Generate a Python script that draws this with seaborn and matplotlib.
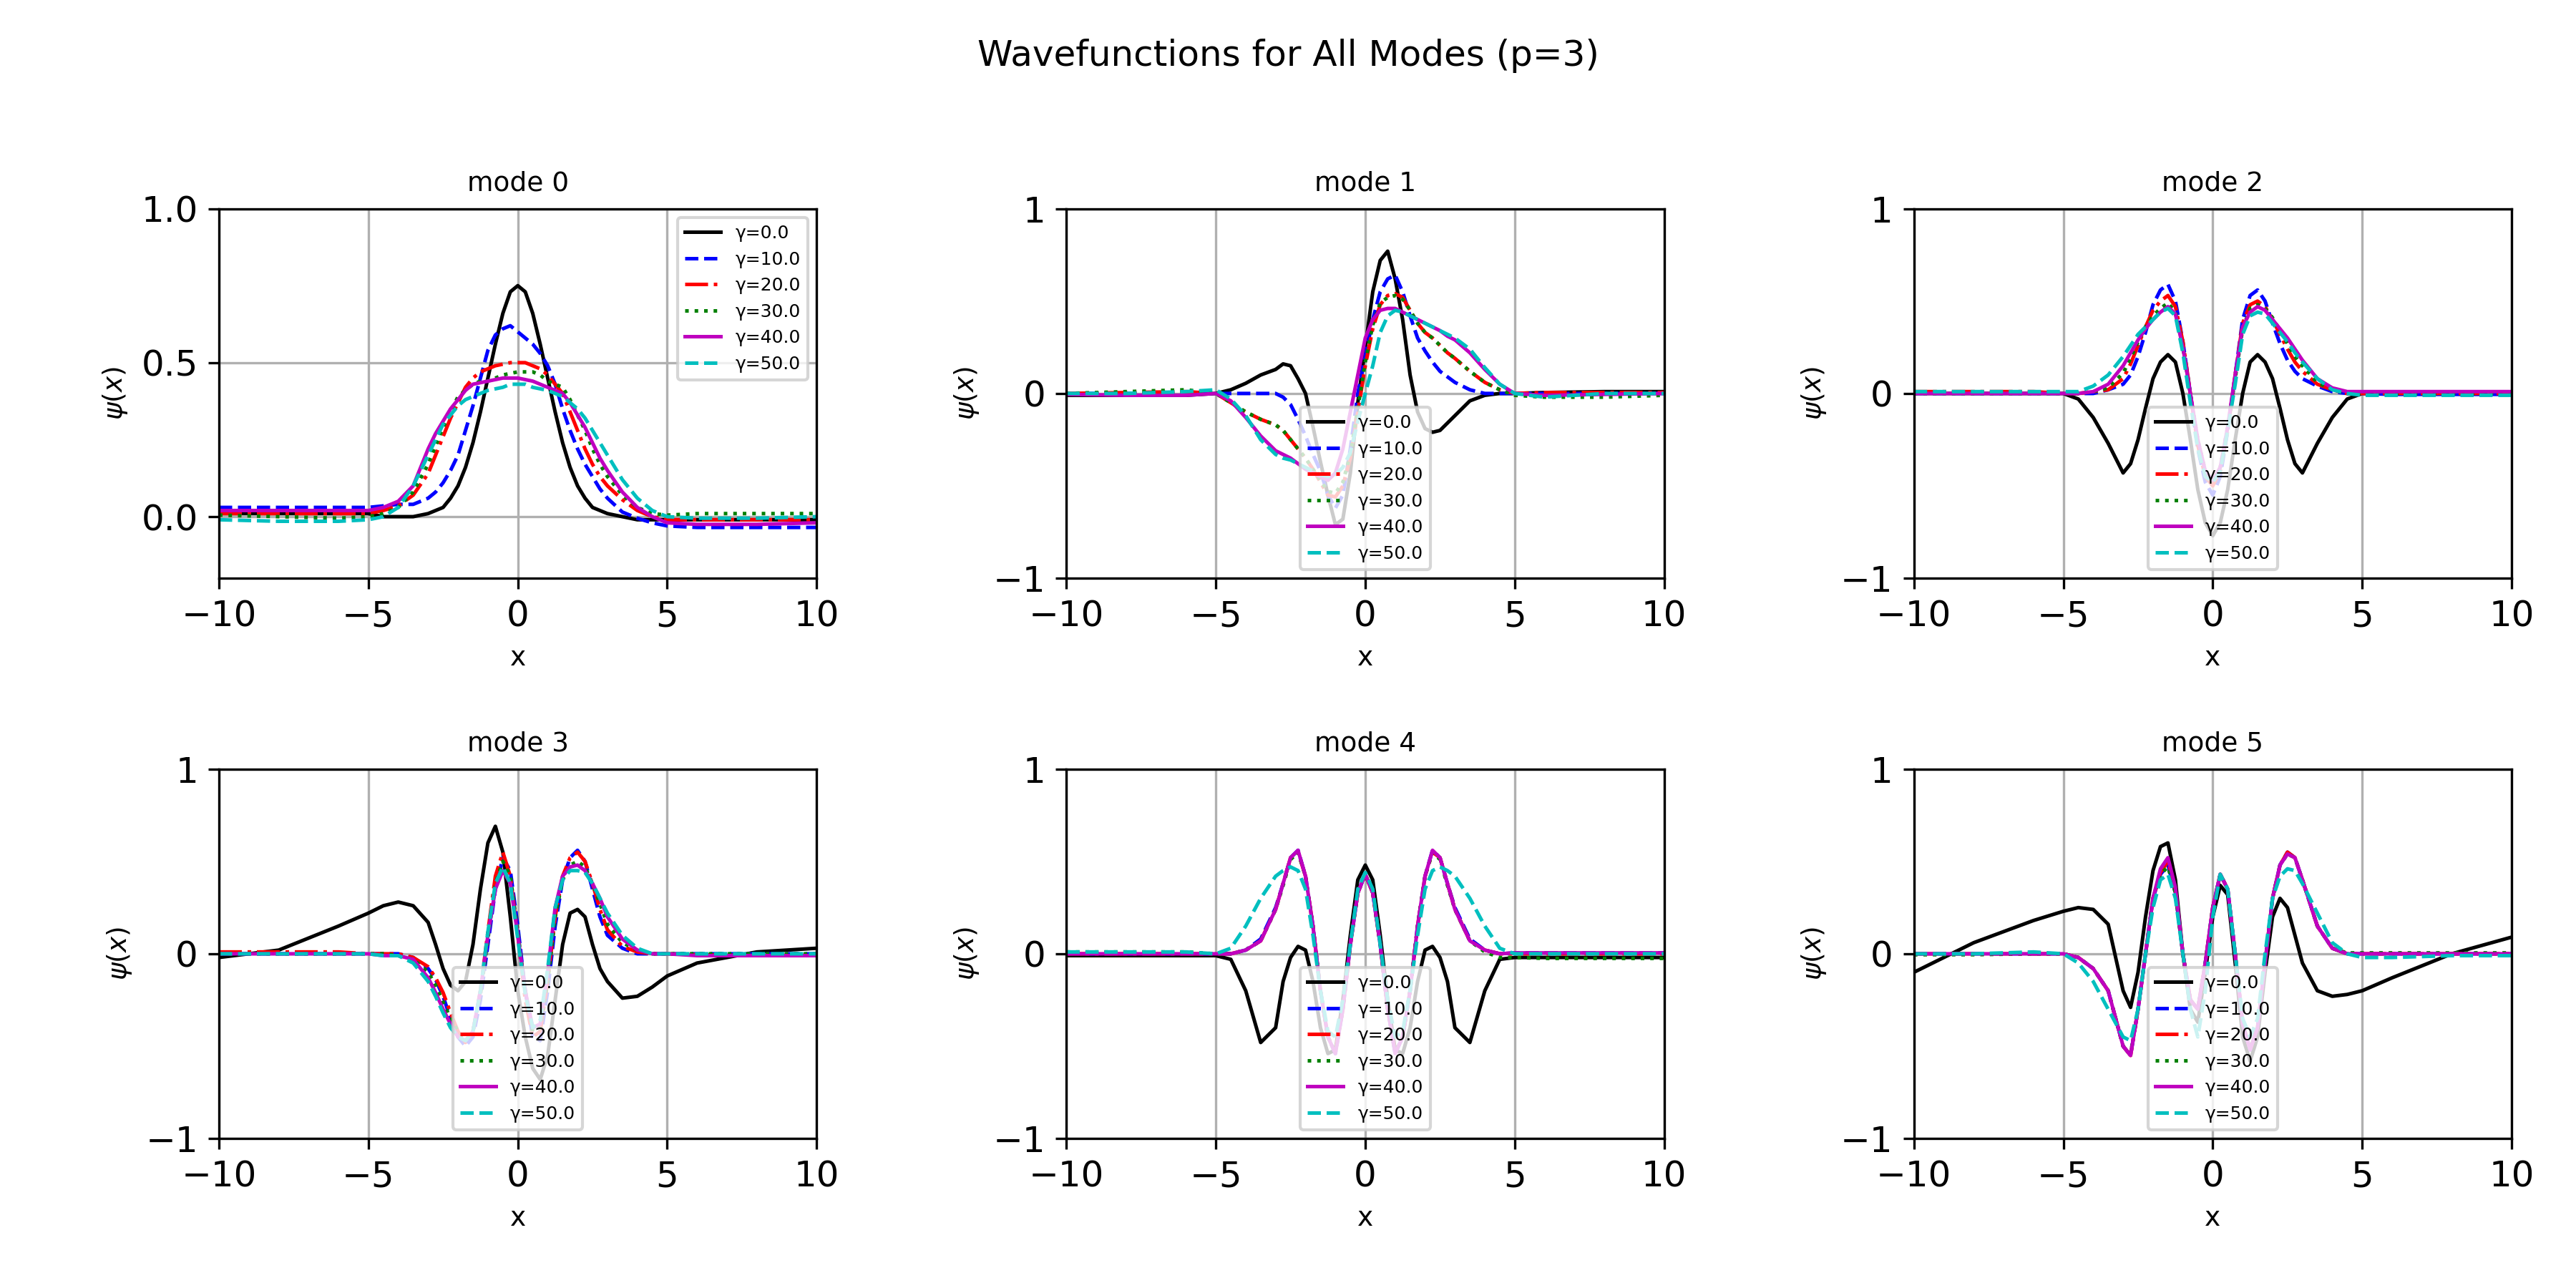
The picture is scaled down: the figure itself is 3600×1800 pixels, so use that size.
import matplotlib
matplotlib.use("Agg")
import matplotlib.pyplot as plt
import seaborn as sns

X = [-10, -8, -6, -5, -4.5, -4, -3.5, -3, -2.75, -2.5, -2.25, -2, -1.75, -1.5, -1.25, -1,
     -0.75, -0.5, -0.25, 0, 0.25, 0.5, 0.75, 1, 1.25, 1.5, 1.75, 2, 2.25, 2.5, 2.75, 3,
     3.5, 4, 4.5, 5, 6, 8, 10]
gammas = [0.0, 10.0, 20.0, 30.0, 40.0, 50.0]
colors = ["k", "b", "r", "g", "m", "c"]
styles = ["-", "--", "-.", ":", "-", "--"]

mode0 = [
 [0.01,0.01,0.01,0.01,0.0,0.0,0.0,0.01,0.02,0.03,0.06,0.10,0.16,0.24,0.34,0.45,0.56,0.66,0.73,0.75,0.73,0.66,0.56,0.45,0.34,0.24,0.16,0.10,0.06,0.03,0.02,0.01,0.0,-0.01,-0.01,-0.01,-0.01,-0.01,-0.01],
 [0.03,0.03,0.03,0.03,0.035,0.04,0.04,0.06,0.08,0.11,0.15,0.20,0.28,0.36,0.45,0.54,0.59,0.61,0.62,0.60,0.58,0.56,0.53,0.49,0.43,0.35,0.28,0.22,0.17,0.13,0.09,0.06,0.015,-0.005,-0.02,-0.03,-0.035,-0.035,-0.035],
 [0.01,0.01,0.01,0.01,0.02,0.035,0.07,0.14,0.20,0.26,0.32,0.37,0.42,0.45,0.47,0.48,0.49,0.495,0.50,0.50,0.50,0.49,0.48,0.46,0.43,0.40,0.34,0.28,0.22,0.17,0.13,0.10,0.055,0.02,0.0,-0.01,-0.01,-0.01,-0.01],
 [0.005,0.0,-0.005,0.0,0.01,0.03,0.08,0.17,0.23,0.29,0.34,0.39,0.41,0.43,0.44,0.44,0.45,0.46,0.465,0.47,0.47,0.47,0.46,0.44,0.43,0.42,0.38,0.33,0.28,0.22,0.17,0.13,0.07,0.03,0.01,0.005,0.01,0.01,0.01],
 [0.02,0.02,0.02,0.02,0.03,0.05,0.10,0.22,0.27,0.31,0.35,0.38,0.41,0.43,0.435,0.44,0.445,0.45,0.45,0.45,0.445,0.44,0.43,0.42,0.41,0.40,0.37,0.33,0.29,0.24,0.19,0.15,0.08,0.03,0.0,-0.02,-0.025,-0.025,-0.02],
 [-0.01,-0.015,-0.015,-0.01,0.0,0.03,0.10,0.20,0.25,0.30,0.33,0.36,0.38,0.39,0.40,0.41,0.415,0.42,0.43,0.43,0.43,0.42,0.415,0.41,0.40,0.39,0.37,0.35,0.32,0.28,0.24,0.20,0.12,0.06,0.02,0.0,-0.005,-0.005,0.0],
]
mode1 = [
 [-0.01,-0.01,-0.01,0.0,0.02,0.055,0.10,0.13,0.16,0.15,0.08,0.0,-0.18,-0.37,-0.55,-0.71,-0.68,-0.43,-0.05,0.25,0.55,0.72,0.77,0.62,0.40,0.10,-0.10,-0.19,-0.21,-0.20,-0.16,-0.12,-0.04,-0.01,0.0,0.0,0.005,0.01,0.01],
 [0.0,0.0,0.0,0.0,0.0,0.0,0.0,0.0,-0.02,-0.06,-0.14,-0.23,-0.33,-0.42,-0.55,-0.62,-0.55,-0.30,0.0,0.20,0.40,0.55,0.62,0.64,0.55,0.42,0.30,0.23,0.17,0.12,0.09,0.06,0.02,0.0,0.0,0.0,0.0,0.0,0.0],
 [0.0,0.005,0.01,0.0,-0.05,-0.10,-0.14,-0.17,-0.20,-0.25,-0.30,-0.35,-0.41,-0.48,-0.55,-0.56,-0.50,-0.35,-0.10,0.15,0.35,0.48,0.53,0.54,0.52,0.45,0.38,0.33,0.30,0.26,0.22,0.19,0.12,0.06,0.02,0.0,0.005,0.005,0.005],
 [0.0,0.01,0.02,0.0,-0.05,-0.10,-0.14,-0.17,-0.20,-0.25,-0.30,-0.35,-0.41,-0.47,-0.53,-0.54,-0.48,-0.33,-0.08,0.17,0.37,0.49,0.52,0.53,0.51,0.45,0.38,0.33,0.30,0.26,0.22,0.19,0.12,0.06,0.02,-0.01,-0.02,-0.02,-0.01],
 [-0.005,-0.01,-0.01,0.0,-0.04,-0.13,-0.23,-0.31,-0.33,-0.35,-0.38,-0.41,-0.43,-0.45,-0.47,-0.43,-0.30,-0.10,0.10,0.30,0.40,0.45,0.46,0.46,0.44,0.42,0.40,0.38,0.36,0.34,0.31,0.29,0.22,0.13,0.05,0.0,-0.01,-0.005,0.0],
 [0.0,0.0,0.01,0.02,-0.03,-0.12,-0.25,-0.33,-0.35,-0.36,-0.38,-0.40,-0.42,-0.44,-0.45,-0.44,-0.40,-0.32,-0.15,0.0,0.15,0.33,0.42,0.45,0.44,0.42,0.40,0.38,0.36,0.34,0.32,0.30,0.24,0.14,0.05,0.0,-0.02,0.0,0.0],
]
mode2 = [
 [0.0,0.0,0.0,0.0,-0.03,-0.13,-0.27,-0.43,-0.38,-0.25,-0.08,0.08,0.17,0.21,0.17,0.0,-0.25,-0.52,-0.70,-0.77,-0.70,-0.52,-0.25,0.0,0.17,0.21,0.17,0.08,-0.08,-0.25,-0.38,-0.43,-0.27,-0.13,-0.03,0.0,0.0,0.0,0.0],
 [0.0,0.0,0.0,0.0,0.0,0.0,0.02,0.05,0.10,0.20,0.33,0.48,0.56,0.59,0.50,0.28,0.0,-0.30,-0.48,-0.55,-0.45,-0.20,0.10,0.40,0.53,0.56,0.50,0.38,0.27,0.18,0.12,0.08,0.04,0.01,0.0,0.0,-0.005,-0.005,-0.005],
 [0.01,0.01,0.01,0.0,0.0,0.01,0.02,0.08,0.16,0.26,0.36,0.45,0.50,0.53,0.47,0.28,0.0,-0.28,-0.45,-0.50,-0.42,-0.20,0.10,0.38,0.48,0.50,0.47,0.40,0.32,0.24,0.17,0.12,0.05,0.02,0.0,0.0,0.0,0.0,0.0],
 [0.0,0.0,0.0,0.0,0.0,0.01,0.03,0.11,0.19,0.28,0.36,0.42,0.46,0.49,0.44,0.25,0.0,-0.25,-0.42,-0.48,-0.40,-0.18,0.08,0.35,0.46,0.48,0.46,0.41,0.34,0.27,0.20,0.15,0.06,0.02,0.0,0.0,0.0,0.0,0.0],
 [0.0,0.0,0.0,0.0,0.0,0.01,0.05,0.15,0.22,0.29,0.35,0.40,0.44,0.47,0.43,0.25,0.0,-0.25,-0.42,-0.47,-0.40,-0.18,0.10,0.36,0.44,0.47,0.45,0.40,0.35,0.30,0.24,0.18,0.08,0.03,0.01,0.01,0.01,0.01,0.01],
 [0.01,0.01,0.01,0.01,0.01,0.04,0.10,0.20,0.26,0.32,0.36,0.40,0.44,0.46,0.42,0.22,-0.05,-0.30,-0.45,-0.48,-0.42,-0.20,0.05,0.32,0.42,0.44,0.43,0.38,0.33,0.28,0.22,0.17,0.08,0.02,0.0,-0.01,-0.01,-0.01,-0.01],
]
mode3 = [
 [-0.02,0.02,0.15,0.22,0.26,0.28,0.26,0.17,0.05,-0.08,-0.17,-0.20,-0.15,0.05,0.35,0.60,0.69,0.55,0.20,-0.20,-0.45,-0.62,-0.68,-0.55,-0.25,0.05,0.22,0.24,0.20,0.05,-0.08,-0.15,-0.24,-0.23,-0.18,-0.12,-0.05,0.01,0.03],
 [0.0,0.0,0.0,0.0,0.0,0.0,-0.02,-0.08,-0.14,-0.23,-0.35,-0.45,-0.50,-0.45,-0.25,0.05,0.35,0.52,0.45,0.15,-0.20,-0.45,-0.47,-0.20,0.15,0.40,0.52,0.56,0.50,0.35,0.20,0.10,0.03,0.0,0.0,0.0,0.0,0.0,0.0],
 [0.01,0.01,0.01,0.0,0.0,0.0,-0.02,-0.07,-0.13,-0.21,-0.32,-0.42,-0.48,-0.42,-0.20,0.12,0.42,0.55,0.42,0.10,-0.25,-0.45,-0.42,-0.15,0.20,0.42,0.52,0.55,0.50,0.38,0.24,0.13,0.04,0.01,0.0,0.0,-0.005,-0.01,-0.01],
 [0.0,0.0,0.0,0.0,0.0,-0.01,-0.03,-0.10,-0.17,-0.26,-0.35,-0.42,-0.46,-0.42,-0.22,0.08,0.38,0.50,0.42,0.12,-0.20,-0.42,-0.40,-0.15,0.20,0.40,0.48,0.50,0.47,0.38,0.27,0.16,0.06,0.02,0.0,0.0,0.0,0.0,0.0],
 [0.0,0.0,0.0,0.0,-0.01,-0.01,-0.03,-0.13,-0.21,-0.30,-0.38,-0.45,-0.47,-0.42,-0.20,0.10,0.35,0.45,0.38,0.10,-0.20,-0.40,-0.38,-0.10,0.25,0.42,0.47,0.48,0.45,0.38,0.30,0.20,0.08,0.02,0.0,0.0,-0.01,-0.01,-0.01],
 [0.0,0.0,0.0,0.0,-0.01,-0.01,-0.05,-0.15,-0.23,-0.32,-0.40,-0.45,-0.47,-0.42,-0.20,0.12,0.38,0.47,0.38,0.08,-0.22,-0.40,-0.36,-0.08,0.25,0.40,0.45,0.45,0.44,0.38,0.30,0.22,0.10,0.03,0.0,0.0,0.0,0.0,0.0],
]
mode4 = [
 [-0.01,-0.01,-0.01,-0.01,-0.03,-0.20,-0.48,-0.40,-0.15,-0.02,0.04,0.02,-0.15,-0.40,-0.54,-0.52,-0.25,0.10,0.40,0.48,0.40,0.10,-0.25,-0.52,-0.54,-0.40,-0.15,0.02,0.04,-0.02,-0.15,-0.40,-0.48,-0.20,-0.03,-0.02,-0.02,-0.02,-0.02],
 [0.0,0.0,0.0,0.0,0.0,0.02,0.08,0.25,0.38,0.52,0.56,0.42,0.15,-0.20,-0.45,-0.54,-0.30,0.05,0.33,0.43,0.33,0.05,-0.30,-0.54,-0.45,-0.20,0.15,0.42,0.56,0.52,0.38,0.25,0.08,0.02,0.0,0.005,0.005,0.005,0.005],
 [0.0,0.0,0.0,0.0,0.0,0.02,0.07,0.24,0.38,0.52,0.55,0.42,0.15,-0.20,-0.45,-0.53,-0.30,0.05,0.33,0.43,0.33,0.05,-0.30,-0.53,-0.45,-0.20,0.15,0.42,0.55,0.52,0.38,0.24,0.07,0.02,0.0,0.0,0.0,0.0,0.0],
 [0.01,0.01,0.01,0.0,0.0,0.02,0.07,0.24,0.37,0.51,0.55,0.42,0.15,-0.20,-0.45,-0.53,-0.30,0.05,0.33,0.43,0.33,0.05,-0.30,-0.53,-0.45,-0.20,0.15,0.42,0.55,0.51,0.37,0.24,0.07,0.01,-0.02,-0.02,-0.025,-0.025,-0.025],
 [0.0,0.0,0.0,0.0,0.0,0.02,0.07,0.24,0.38,0.52,0.56,0.42,0.15,-0.20,-0.45,-0.54,-0.30,0.05,0.33,0.43,0.33,0.05,-0.30,-0.54,-0.45,-0.20,0.15,0.42,0.56,0.52,0.38,0.24,0.07,0.02,0.0,0.005,0.005,0.005,0.005],
 [0.01,0.01,0.01,0.0,0.03,0.15,0.30,0.42,0.45,0.47,0.45,0.35,0.10,-0.20,-0.42,-0.45,-0.25,0.05,0.35,0.44,0.35,0.05,-0.25,-0.45,-0.42,-0.20,0.10,0.35,0.45,0.47,0.45,0.42,0.30,0.15,0.03,0.0,0.0,0.0,0.0],
]
mode5 = [
 [-0.10,0.06,0.18,0.23,0.25,0.24,0.16,-0.20,-0.29,-0.10,0.20,0.45,0.58,0.60,0.40,0.0,-0.30,-0.37,-0.10,0.20,0.37,0.32,-0.05,-0.45,-0.58,-0.45,-0.10,0.20,0.30,0.25,0.10,-0.05,-0.20,-0.23,-0.22,-0.20,-0.13,0.0,0.09],
 [0.0,0.0,0.0,0.0,-0.02,-0.08,-0.20,-0.50,-0.55,-0.30,0.0,0.30,0.43,0.48,0.33,0.0,-0.25,-0.30,-0.05,0.25,0.43,0.35,0.0,-0.38,-0.52,-0.40,-0.05,0.30,0.48,0.55,0.52,0.40,0.15,0.03,0.0,0.0,0.0,0.0,0.0],
 [0.0,0.0,0.0,0.0,-0.02,-0.08,-0.20,-0.50,-0.55,-0.30,0.0,0.30,0.44,0.50,0.34,0.0,-0.25,-0.30,-0.05,0.25,0.43,0.35,0.0,-0.38,-0.52,-0.40,-0.05,0.30,0.48,0.55,0.52,0.40,0.15,0.03,0.0,0.0,0.0,0.0,0.0],
 [-0.005,-0.005,0.0,0.0,-0.02,-0.08,-0.20,-0.50,-0.54,-0.30,0.0,0.30,0.43,0.47,0.33,0.0,-0.25,-0.30,-0.05,0.25,0.43,0.35,0.0,-0.38,-0.52,-0.40,-0.05,0.30,0.48,0.54,0.52,0.40,0.15,0.03,0.005,0.005,0.005,0.005,0.005],
 [0.0,0.0,0.0,0.0,-0.02,-0.08,-0.20,-0.50,-0.55,-0.30,0.0,0.30,0.46,0.52,0.36,0.0,-0.25,-0.30,-0.05,0.25,0.43,0.35,0.0,-0.38,-0.52,-0.40,-0.05,0.30,0.48,0.54,0.52,0.40,0.15,0.03,0.0,0.0,0.0,0.0,0.0],
 [0.0,0.0,0.01,0.0,-0.05,-0.15,-0.30,-0.45,-0.47,-0.30,0.0,0.25,0.40,0.43,0.30,0.0,-0.30,-0.45,-0.20,0.20,0.43,0.35,0.0,-0.35,-0.45,-0.35,0.0,0.30,0.42,0.46,0.45,0.38,0.22,0.06,0.0,-0.02,-0.02,-0.01,-0.01],
]
modes = [mode0, mode1, mode2, mode3, mode4, mode5]
mode_titles = ["mode 0", "mode 1", "mode 2", "mode 3", "mode 4", "mode 5"]

fig, axes = plt.subplots(2, 3, figsize=(12, 6), dpi=300)
fig.subplots_adjust(left=0.085, right=0.975, top=0.838, bottom=0.116, wspace=0.418, hspace=0.516)
for i, ax in enumerate(axes.flat):
    for j, g in enumerate(gammas):
        sns.lineplot(x=X, y=modes[i][j], ax=ax, color=colors[j], linestyle=styles[j],
                     linewidth=1.2, label=f"γ={g}", sort=False)
    ax.set_xlim(-10, 10)
    ax.set_xticks([-10, -5, 0, 5, 10])
    if i == 0:
        ax.set_ylim(-0.2, 1.0)
        ax.set_yticks([0.0, 0.5, 1.0])
        ax.legend(loc="upper right", fontsize=6)
    else:
        ax.set_ylim(-1, 1)
        ax.set_yticks([-1, 0, 1])
        ax.legend(loc="lower center", fontsize=6)
    ax.grid(True)
    ax.tick_params(labelsize=12)
    ax.set_title(mode_titles[i], fontsize=9)
    ax.set_xlabel("x", fontsize=9)
    ax.set_ylabel(r"$\psi(x)$", fontsize=9)
fig.suptitle("Wavefunctions for All Modes (p=3)", fontsize=12, y=0.97)
fig.savefig("out.png", dpi=300)
